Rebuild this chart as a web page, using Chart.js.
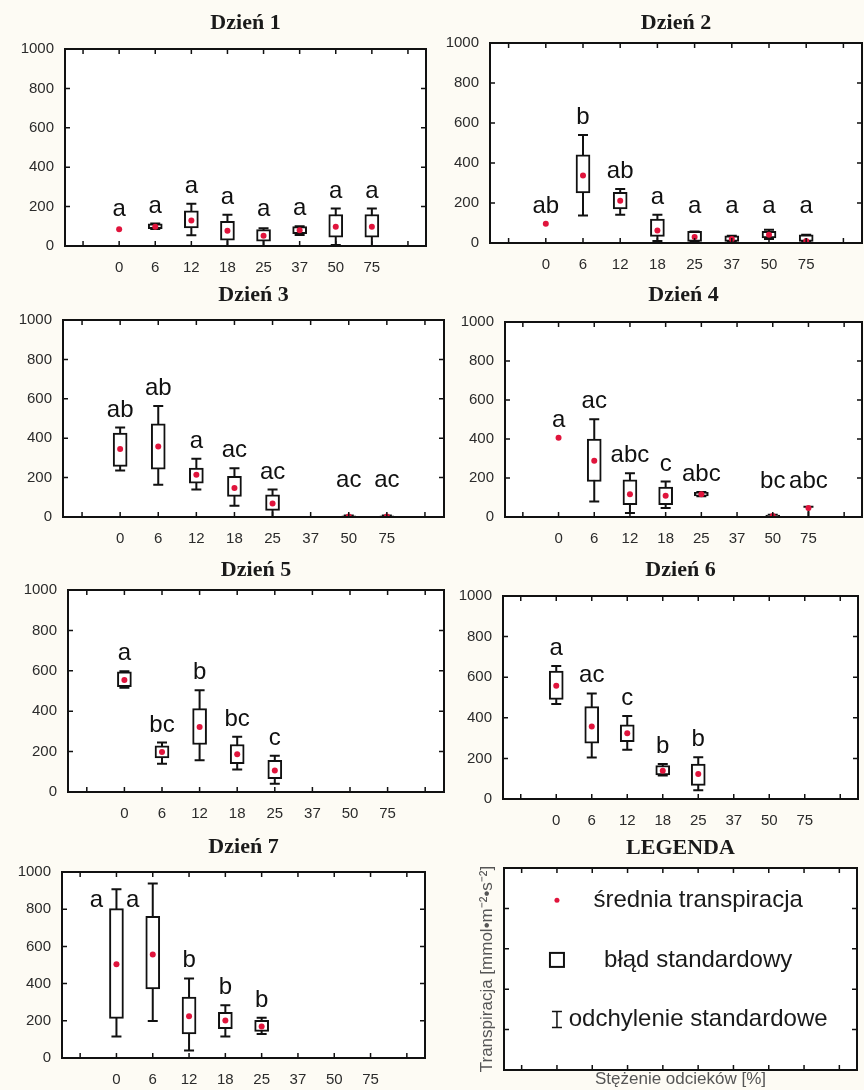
<!DOCTYPE html>
<html lang="pl">
<head>
<meta charset="utf-8">
<title>Transpiracja – dni 1–7</title>
<script src="https://cdn.jsdelivr.net/npm/chart.js@4.4.1/dist/chart.umd.min.js"></script>
<style>
  html, body { margin: 0; padding: 0; background: #fdfbf4; overflow: hidden; }
  #wrap { position: relative; width: 864px; height: 1090px; }
  canvas { position: absolute; }
</style>
</head>
<body>
<div id="wrap"></div>
<script>
// stężenie odcieków [%] - pusta kategoria na obu końcach osi
var concentrations = ['0', '6', '12', '18', '25', '37', '50', '75'];
var yTicks = [0, 200, 400, 600, 800, 1000];

// Dzień 1
var meanD1 = [85, 98, 130, 78, 52, 80, 98, 98];
var seD1 = [null, [88, 112], [92, 178], [30, 125], [25, 83], [62, 98], [45, 160], [45, 160]];
var sdD1 = [null, [86, 114], [55, 215], [0, 158], [0, 90], [56, 100], [5, 190], [0, 190]];
var lettersD1 = ['a', 'a', 'a', 'a', 'a', 'a', 'a', 'a'];

// Dzień 2
var meanD2 = [96, 338, 211, 63, 30, 20, 41, 10];
var seD2 = [null, [250, 441], [170, 253], [33, 120], [8, 58], [8, 36], [25, 58], [8, 41]];
var sdD2 = [null, [138, 540], [141, 270], [10, 141], [8, 58], [8, 36], [20, 66], [8, 41]];
var lettersD2 = ['ab', 'b', 'ab', 'a', 'a', 'a', 'a', 'a'];

// Dzień 3
var meanD3 = [345, 358, 215, 147, 68, null, 3, 3];
var seD3 = [[257, 426], [243, 473], [172, 248], [105, 206], [34, 113], null, [0, 6], [0, 6]];
var sdD3 = [[236, 454], [164, 564], [139, 296], [57, 248], [0, 139], null, [0, 8], [0, 8]];
var lettersD3 = ['ab', 'ab', 'a', 'ac', 'ac', '', 'ac', 'ac'];

// Dzień 4
var meanD4 = [407, 289, 117, 109, 117, null, 5, 46];
var seD4 = [null, [182, 399], [63, 191], [63, 153], [108, 126], null, [0, 10], null];
var sdD4 = [null, [80, 501], [20, 225], [46, 182], [106, 128], null, [0, 12], [0, 52]];
var lettersD4 = ['a', 'ac', 'abc', 'c', 'abc', '', 'bc', 'abc'];

// Dzień 5
var meanD5 = [554, 198, 322, 187, 107, null, null, null];
var seD5 = [[521, 595], [169, 228], [235, 413], [140, 235], [66, 157], null, null, null];
var sdD5 = [[516, 598], [140, 245], [157, 504], [111, 273], [41, 179], null, null, null];
var lettersD5 = ['a', 'bc', 'b', 'bc', 'c', '', '', ''];

// Dzień 6
var meanD6 = [558, 357, 324, 139, 123, null, null, null];
var seD6 = [[491, 630], [275, 455], [283, 365], [119, 165], [67, 172], null, null, null];
var sdD6 = [[468, 655], [205, 520], [242, 409], [116, 172], [43, 206], null, null, null];
var lettersD6 = ['a', 'ac', 'c', 'b', 'b', '', '', ''];

// Dzień 7
var meanD7 = [504, 556, 225, 201, 169, null, null, null];
var seD7 = [[213, 803], [371, 762], [129, 327], [158, 246], [143, 202], null, null, null];
var sdD7 = [[116, 907], [199, 938], [40, 428], [116, 283], [129, 217], null, null, null];
var lettersD7 = ['a', 'a', 'b', 'b', 'b', '', '', ''];

var legendLabels = ['średnia transpiracja', 'błąd standardowy', 'odchylenie standardowe'];
var yTitle = 'Transpiracja [mmol•m⁻²•s⁻²]';
var xTitle = 'Stężenie odcieków [%]';

var days = [
	{ title: 'Dzień 1', mean: meanD1, se: seD1, sd: sdD1, letters: lettersD1 },
	{ title: 'Dzień 2', mean: meanD2, se: seD2, sd: sdD2, letters: lettersD2 },
	{ title: 'Dzień 3', mean: meanD3, se: seD3, sd: sdD3, letters: lettersD3 },
	{ title: 'Dzień 4', mean: meanD4, se: seD4, sd: sdD4, letters: lettersD4 },
	{ title: 'Dzień 5', mean: meanD5, se: seD5, sd: sdD5, letters: lettersD5 },
	{ title: 'Dzień 6', mean: meanD6, se: seD6, sd: sdD6, letters: lettersD6 },
	{ title: 'Dzień 7', mean: meanD7, se: seD7, sd: sdD7, letters: lettersD7 }
];

// plot frames on the page (layout only)
var frames = [
	{ L: 65,  R: 426, T: 49,  B: 246, titleY: 23 },
	{ L: 490, R: 862, T: 43,  B: 243, titleY: 23 },
	{ L: 63,  R: 444, T: 320, B: 517, titleY: 295 },
	{ L: 505, R: 862, T: 322, B: 517, titleY: 295 },
	{ L: 68,  R: 444, T: 590, B: 792, titleY: 570 },
	{ L: 503, R: 858, T: 596, B: 799, titleY: 570 },
	{ L: 62,  R: 425, T: 872, B: 1058, titleY: 847 }
];
var legendFrame = { L: 504, R: 857, T: 868, B: 1070, titleY: 848 };

var axisLabels = [''].concat(concentrations, ['']);
var pad = function(arr) { return [null].concat(arr, [null]); };
var extras = {};
var TITLE_FONT = { family: 'Liberation Serif', weight: 'bold', size: 22 };
var TICK_FONT = { family: 'Liberation Sans', size: 15 };

var decoPlugin = {
	id: 'deco',
	beforeDraw: function(chart) {
		var a = chart.chartArea, ctx = chart.ctx;
		ctx.save();
		ctx.fillStyle = '#ffffff';
		ctx.fillRect(a.left, a.top, a.right - a.left, a.bottom - a.top);
		ctx.restore();
	},
	beforeDatasetsDraw: function(chart) {
		var ex = extras[chart.canvas.id];
		if (!ex || !ex.sd) return;
		var ctx = chart.ctx, xs = chart.scales.x, ys = chart.scales.y;
		ctx.save();
		ctx.strokeStyle = '#111';
		ctx.lineWidth = 2;
		ex.sd.forEach(function(r, i) {
			if (!r) return;
			var x = xs.getPixelForValue(i + 1);
			var y1 = ys.getPixelForValue(r[0]), y2 = ys.getPixelForValue(r[1]);
			ctx.beginPath();
			ctx.moveTo(x, y1); ctx.lineTo(x, y2);
			ctx.moveTo(x - 5, y1); ctx.lineTo(x + 5, y1);
			ctx.moveTo(x - 5, y2); ctx.lineTo(x + 5, y2);
			ctx.stroke();
		});
		ctx.restore();
	},
	afterDatasetsDraw: function(chart) {
		var ex = extras[chart.canvas.id];
		if (!ex || !ex.letters) return;
		var ctx = chart.ctx, xs = chart.scales.x, ys = chart.scales.y, a = chart.chartArea;
		ctx.save();
		ctx.font = '24px "Liberation Sans", Arial, sans-serif';
		ctx.fillStyle = '#111';
		ctx.textAlign = 'center';
		ctx.textBaseline = 'alphabetic';
		ex.letters.forEach(function(txt, i) {
			if (!txt) return;
			var top = -Infinity;
			if (ex.mean[i] != null) top = Math.max(top, ex.mean[i]);
			if (ex.se[i]) top = Math.max(top, ex.se[i][1]);
			if (ex.sd[i]) top = Math.max(top, ex.sd[i][1]);
			var x = xs.getPixelForValue(i + 1);
			var base = Math.min(ys.getPixelForValue(top) - 11, ys.getPixelForValue(150));
			if (base - 18 < a.top) { // no room above: put it beside the box
				x -= 20;
				base = a.top + 35;
			}
			ctx.fillText(txt, x, base);
		});
		ctx.restore();
	},
	afterDraw: function(chart) {
		var ctx = chart.ctx, a = chart.chartArea, xs = chart.scales.x, ys = chart.scales.y;
		ctx.save();
		ctx.strokeStyle = '#111';
		ctx.lineWidth = 1.5;
		ctx.beginPath();
		for (var k = 0; k < axisLabels.length; k++) {
			var x = xs.getPixelForValue(k);
			ctx.moveTo(x, a.top); ctx.lineTo(x, a.top + 5);
			ctx.moveTo(x, a.bottom); ctx.lineTo(x, a.bottom - 5);
		}
		yTicks.forEach(function(v) {
			var y = ys.getPixelForValue(v);
			ctx.moveTo(a.left, y); ctx.lineTo(a.left + 5, y);
			ctx.moveTo(a.right, y); ctx.lineTo(a.right - 5, y);
		});
		ctx.stroke();
		ctx.lineWidth = 2;
		ctx.strokeRect(a.left, a.top, a.right - a.left, a.bottom - a.top);

		var ex = extras[chart.canvas.id];
		if (ex && ex.legend) {
			var sx = xs.getPixelForValue(1), tx = xs.getPixelForValue(5);
			var rows = [840, 545, 250].map(function(v) { return ys.getPixelForValue(v); });
			// mean dot
			ctx.fillStyle = '#e0143c';
			ctx.beginPath(); ctx.arc(sx, rows[0], 2.5, 0, Math.PI * 2); ctx.fill();
			// standard error box
			ctx.lineWidth = 2;
			ctx.strokeRect(sx - 7, rows[1] - 7, 14, 14);
			// standard deviation whisker
			ctx.lineWidth = 1.5;
			ctx.beginPath();
			ctx.moveTo(sx, rows[2] - 8); ctx.lineTo(sx, rows[2] + 8);
			ctx.moveTo(sx - 5, rows[2] - 8); ctx.lineTo(sx + 5, rows[2] - 8);
			ctx.moveTo(sx - 5, rows[2] + 8); ctx.lineTo(sx + 5, rows[2] + 8);
			ctx.stroke();
			ctx.fillStyle = '#1a1a1a';
			ctx.font = '24px "Liberation Sans", Arial, sans-serif';
			ctx.textAlign = 'center';
			ctx.textBaseline = 'middle';
			legendLabels.forEach(function(t, i) { ctx.fillText(t, tx, rows[i]); });
		}
		ctx.restore();
	}
};

function addCanvas(id, left, top, w, h) {
	var c = document.createElement('canvas');
	c.id = id;
	c.width = w; c.height = h;
	c.style.left = left + 'px';
	c.style.top = top + 'px';
	c.style.width = w + 'px';
	c.style.height = h + 'px';
	document.getElementById('wrap').appendChild(c);
	return c;
}

function yScale(width, showTicks, title) {
	return {
		min: 0, max: 1000,
		afterBuildTicks: function(s) { s.ticks = yTicks.map(function(v) { return { value: v }; }); },
		afterFit: function(s) { s.width = width; },
		grid: { display: false, drawTicks: false },
		border: { display: false },
		ticks: {
			display: showTicks, font: TICK_FONT, color: '#2b2b2b', padding: 11,
			callback: function(v) { return String(v); }
		},
		title: title || { display: false }
	};
}

function xScale(height, showTicks, title) {
	return {
		type: 'category',
		offset: true,
		afterFit: function(s) { s.height = height; },
		grid: { display: false, drawTicks: false, offset: false },
		border: { display: false },
		ticks: { display: showTicks, font: TICK_FONT, color: '#2b2b2b', padding: 13, autoSkip: false, maxRotation: 0 },
		title: title || { display: false }
	};
}

function titleOpts(text, canvasTop, f) {
	var lh = TITLE_FONT.size * 1.2;
	var pt = f.titleY - canvasTop - lh / 2;
	var pb = (f.T - canvasTop) - lh - pt;
	return { display: true, text: text, fullSize: false, font: TITLE_FONT, color: '#1a1a1a', padding: { top: pt, bottom: pb } };
}

days.forEach(function(day, d) {
	var f = frames[d];
	var left = f.L - 65, top = f.T - 50;
	var id = 'day' + (d + 1);
	var canvas = addCanvas(id, left, top, f.R - f.L + 69, f.B - f.T + 82);
	extras[id] = { mean: day.mean, se: day.se, sd: day.sd, letters: day.letters };

	new Chart(canvas, {
		type: 'bar',
		data: {
			labels: axisLabels,
			datasets: [
				{
					type: 'line',
					label: 'średnia',
					data: pad(day.mean),
					showLine: false,
					pointRadius: 3,
					pointBorderWidth: 0,
					pointBackgroundColor: '#e0143c',
					borderColor: '#e0143c'
				},
				{
					type: 'bar',
					label: 'błąd standardowy',
					data: pad(day.se),
					backgroundColor: '#ffffff',
					borderColor: '#111111',
					borderWidth: 2,
					borderSkipped: false,
					barThickness: 14
				}
			]
		},
		options: {
			responsive: false,
			animation: false,
			events: [],
			layout: { padding: { top: 0, right: 4, bottom: 0, left: 0 } },
			plugins: {
				legend: { display: false },
				tooltip: { enabled: false },
				title: titleOpts(day.title, top, f)
			},
			scales: { x: xScale(32, true), y: yScale(65, true) }
		},
		plugins: [decoPlugin]
	});
});

// legend panel
(function() {
	var f = legendFrame;
	var left = 440, top = f.T - 50;
	var canvas = addCanvas('legenda', left, top, 864 - left, 1090 - top);
	extras.legenda = { legend: true };
	var axisTitleFont = { family: 'Liberation Sans', size: 17 };
	new Chart(canvas, {
		type: 'bar',
		data: { labels: axisLabels, datasets: [] },
		options: {
			responsive: false,
			animation: false,
			events: [],
			layout: { padding: { top: 0, right: 864 - f.R, bottom: 0, left: f.L - left - 27 } },
			plugins: {
				legend: { display: false },
				tooltip: { enabled: false },
				title: titleOpts('LEGENDA', top, f)
			},
			scales: {
				x: xScale(20, false, { display: true, text: xTitle, color: '#555', font: axisTitleFont, padding: { top: 0, bottom: 0 } }),
				y: yScale(27, false, { display: true, text: yTitle, color: '#555', font: axisTitleFont, padding: { top: 0, bottom: 0 } })
			}
		},
		plugins: [decoPlugin]
	});
})();
</script>
</body>
</html>
